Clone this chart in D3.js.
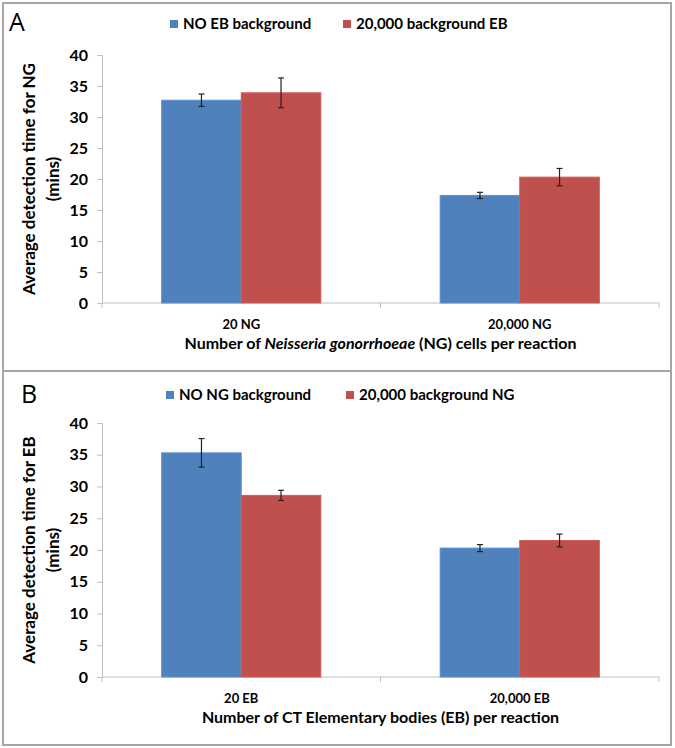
<!DOCTYPE html>
<html><head><meta charset="utf-8">
<script src="https://cdn.jsdelivr.net/npm/d3@7"></script>
<style>body{margin:0;background:#fff}svg{display:block}</style>
</head><body>
<script>
// ---- data ----
const yTickValues = [0, 5, 10, 15, 20, 25, 30, 35, 40];

const categoriesA = ["20 NG", "20,000 NG"];
const seriesA = ["NO EB background", "20,000 background EB"];
const noBgA = [32.7, 17.35];
const bgA = [33.9, 20.3];
const noBgErrA = [1.0, 0.5];
const bgErrA = [2.4, 1.4];

const categoriesB = ["20 EB", "20,000 EB"];
const seriesB = ["NO NG background", "20,000 background NG"];
const noBgB = [35.3, 20.3];
const bgB = [28.6, 21.5];
const noBgErrB = [2.25, 0.55];
const bgErrB = [0.8, 1.0];

const colors = ["#4f81bd", "#c0504d"];
const FONT = "Lato, 'Open Sans', sans-serif";

const W = 675, H = 748;
const svg = d3.select("body").append("svg").attr("width", W).attr("height", H);
svg.append("rect").attr("width", W).attr("height", H).attr("fill", "#fff");

// frame
svg.append("rect").attr("x", 3).attr("y", 3).attr("width", 668).attr("height", 742)
  .attr("fill", "none").attr("stroke", "#a6a6a6").attr("stroke-width", 2);
svg.append("line").attr("x1", 3).attr("x2", 671).attr("y1", 371).attr("y2", 371)
  .attr("stroke", "#a6a6a6").attr("stroke-width", 2);

function panel(cfg) {
  const g = svg.append("g");
  const x0 = d3.scaleBand().domain(cfg.categories).range([cfg.left, cfg.right]).padding(0);
  const x1 = d3.scaleBand().domain(cfg.series).range([0, x0.bandwidth()]).paddingInner(0).paddingOuter(0.75);
  const y = d3.scaleLinear().domain([0, 40]).range([cfg.bottom, cfg.top]);

  // letter
  g.append("text").attr("x", cfg.letterX).attr("y", cfg.letterY).text(cfg.letter)
    .attr("font-family", "'Open Sans', sans-serif").attr("font-size", 25).attr("fill", "#000");

  // legend
  const leg = g.append("g");
  cfg.series.forEach((s, i) => {
    leg.append("rect").attr("x", cfg.legX[i]).attr("y", cfg.legY - 4).attr("width", 8).attr("height", 8)
      .attr("fill", colors[i]);
    leg.append("text").attr("x", cfg.legX[i] + 13).attr("y", cfg.legY).attr("dy", "0.35em")
      .text(s).attr("font-family", FONT).attr("font-weight", "bold").attr("font-size", 15).attr("fill", "#000");
  });

  // y axis
  const yAxis = d3.axisLeft(y).tickValues(yTickValues).tickSize(5).tickPadding(9);
  const ya = g.append("g").attr("transform", `translate(${cfg.left},0)`).call(yAxis);
  ya.select(".domain").attr("stroke", "#bfbfbf");
  ya.selectAll(".tick line").attr("stroke", "#bfbfbf");
  ya.selectAll(".tick text").attr("font-family", FONT).attr("font-weight", "bold")
    .attr("font-size", 16).attr("fill", "#000");

  // x axis
  const xa = g.append("g").attr("transform", `translate(0,${cfg.bottom})`);
  xa.append("line").attr("x1", cfg.left).attr("x2", cfg.right).attr("stroke", "#bfbfbf");
  const bounds = [cfg.left].concat(cfg.categories.map(c => x0(c) + x0.bandwidth()));
  xa.selectAll("line.tk").data(bounds).join("line").attr("class", "tk")
    .attr("x1", d => d).attr("x2", d => d).attr("y1", 0).attr("y2", 5).attr("stroke", "#bfbfbf");
  xa.selectAll("text.cat").data(cfg.categories).join("text").attr("class", "cat")
    .attr("x", d => x0(d) + x0.bandwidth() / 2).attr("y", 26).attr("text-anchor", "middle")
    .text(d => d).attr("font-family", FONT).attr("font-weight", "bold").attr("font-size", 13);

  // bars
  const vals = [cfg.v0, cfg.v1], errs = [cfg.e0, cfg.e1];
  cfg.series.forEach((s, si) => {
    const data = cfg.categories.map((c, ci) => ({ c, v: vals[si][ci], e: errs[si][ci] }));
    g.selectAll(null).data(data).join("rect")
      .attr("x", d => x0(d.c) + x1(s)).attr("width", x1.bandwidth())
      .attr("y", d => y(d.v)).attr("height", d => y(0) - y(d.v))
      .attr("fill", colors[si]).attr("stroke", d3.color(colors[si]).brighter(0.3)).attr("stroke-width", 1);
    const eb = g.selectAll(null).data(data).join("g").attr("stroke", "#222").attr("stroke-width", 1.2);
    const cx = d => x0(d.c) + x1(s) + x1.bandwidth() / 2;
    eb.append("line").attr("x1", cx).attr("x2", cx).attr("y1", d => y(d.v + d.e)).attr("y2", d => y(d.v - d.e));
    eb.append("line").attr("x1", d => cx(d) - 3).attr("x2", d => cx(d) + 3).attr("y1", d => y(d.v + d.e)).attr("y2", d => y(d.v + d.e));
    eb.append("line").attr("x1", d => cx(d) - 3).attr("x2", d => cx(d) + 3).attr("y1", d => y(d.v - d.e)).attr("y2", d => y(d.v - d.e));
  });

  // y title
  const cy = (cfg.top + cfg.bottom) / 2;
  const yt = g.append("text").attr("transform", `translate(35,${cy}) rotate(-90)`)
    .attr("text-anchor", "middle").attr("font-family", FONT).attr("font-weight", "bold").attr("font-size", 17);
  yt.append("tspan").attr("x", 0).attr("y", 0).text(cfg.yTitle);
  yt.append("tspan").attr("x", 0).attr("y", 24).text("(mins)");

  // x title
  const xt = g.append("text").attr("x", (cfg.left + cfg.right) / 2).attr("y", cfg.bottom + 46)
    .attr("text-anchor", "middle").attr("font-family", FONT).attr("font-weight", "bold").attr("font-size", 16);
  cfg.xTitle.forEach(p => xt.append("tspan").text(p.t).attr("font-style", p.i ? "italic" : "normal"));
}

panel({
  letter: "A", letterX: 9, letterY: 31,
  categories: categoriesA, series: seriesA, v0: noBgA, v1: bgA, e0: noBgErrA, e1: bgErrA,
  left: 102, right: 659, top: 55, bottom: 303,
  legX: [170, 343], legY: 24,
  yTitle: "Average detection time for NG",
  xTitle: [{ t: "Number of " }, { t: "Neisseria gonorrhoeae", i: true }, { t: " (NG) cells per reaction" }]
});
panel({
  letter: "B", letterX: 21, letterY: 403,
  categories: categoriesB, series: seriesB, v0: noBgB, v1: bgB, e0: noBgErrB, e1: bgErrB,
  left: 102, right: 659, top: 423, bottom: 677,
  legX: [166, 346], legY: 395,
  yTitle: "Average detection time for EB",
  xTitle: [{ t: "Number of CT Elementary bodies (EB) per reaction" }]
});
</script>
</body></html>
